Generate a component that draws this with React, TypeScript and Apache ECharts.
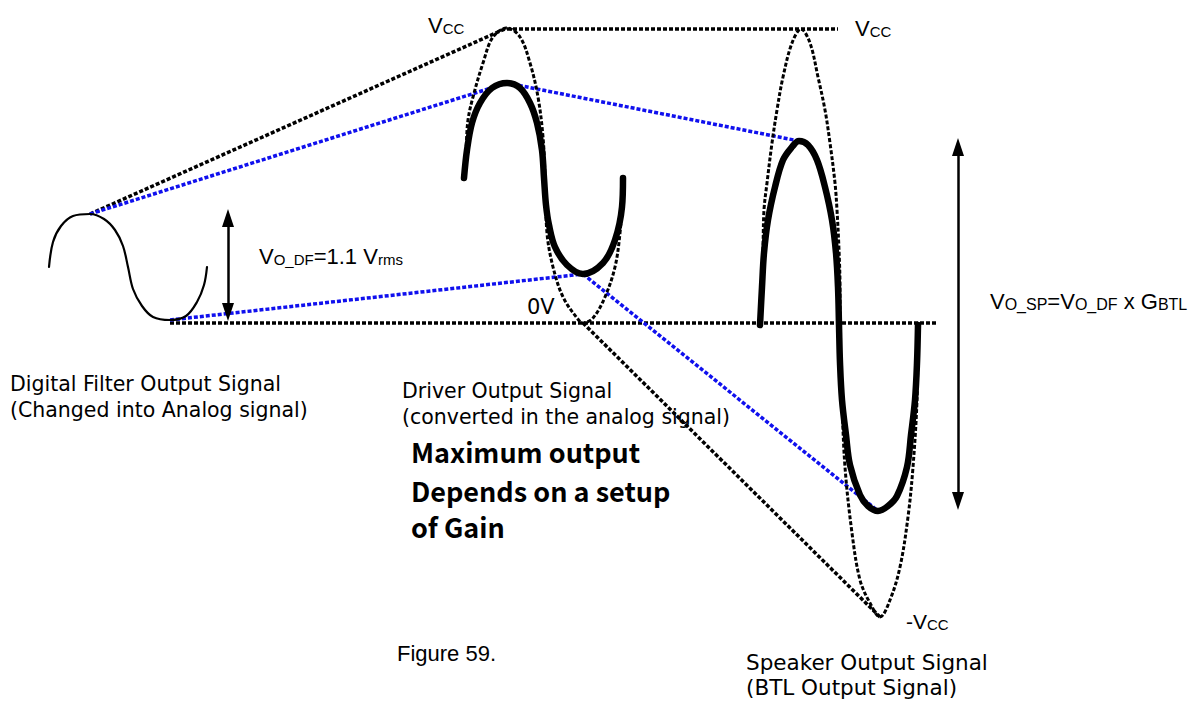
import React, { useEffect, useRef } from 'react';
import * as echarts from 'echarts';

// ---- data (pixel space, y downward) ----
const filterWave: number[][] = [
  [49, 267], [53, 242], [61, 226], [73, 216], [90, 214], [104, 219], [115, 230], [123, 246],
  [128, 267], [133, 289], [142, 306], [153, 317], [170, 320], [186, 316], [197, 302], [204, 285], [207, 267],
];
const driverWave: number[][] = [
  [464, 178], [467, 150], [472, 123], [480, 103], [492, 88], [507, 83], [520, 88], [530, 103],
  [537, 123], [542, 150], [544, 178], [546, 205], [549, 225], [555, 247], [567, 265], [583, 274],
  [603, 263], [615, 240], [622, 207], [623, 178],
];
const driverEnvelope: number[][] = [
  [464, 176], [466, 150], [468, 120], [473, 97], [483, 63], [493, 37], [507, 28], [520, 37],
  [530, 63], [538, 97], [543, 137], [545, 176], [547, 233], [553, 267], [563, 297], [577, 318],
  [583, 323], [593, 318], [605, 297], [615, 267], [620, 233], [622, 200], [623, 176],
];
const speakerWave: number[][] = [
  [760, 325], [762, 287], [764, 253], [768, 220], [775, 187], [783, 160], [792, 147], [799, 141],
  [808, 145], [817, 160], [825, 187], [832, 220], [836, 253], [838, 287], [839, 325], [840, 363],
  [842, 400], [846, 435], [850, 465], [860, 495], [868, 506], [878, 511], [888, 506], [897, 496],
  [907, 467], [911, 435], [915, 400], [917, 363], [918, 325],
];
const speakerEnvelope: number[][] = [
  [761, 323], [762, 287], [763, 250], [764, 210], [767, 183], [772, 143], [777, 110], [783, 77],
  [792, 43], [801, 29], [810, 43], [818, 77], [825, 110], [830, 143], [835, 183], [837, 210],
  [839, 250], [840, 287], [840, 323], [842, 400], [845, 467], [852, 533], [860, 580], [870, 603],
  [880, 617], [890, 600], [900, 567], [908, 517], [913, 467], [917, 400], [918, 323],
];
const blackGuides: number[][][] = [
  [[90, 214], [507, 28]],
  [[170, 323], [937, 323]],
  [[507, 29], [838, 29]],
  [[583, 323], [880, 617]],
];
const blueGuides: number[][][] = [
  [[90, 214], [507, 83]],
  [[170, 320], [583, 274]],
  [[507, 83], [799, 141]],
  [[583, 274], [878, 511]],
];
// [x, top tip, bottom tip]
const arrows: number[][] = [
  [228, 209, 321],
  [958, 138, 510],
];

const labelFilter = ['Digital Filter Output Signal', '(Changed into Analog signal)'];
const labelDriver = ['Driver Output Signal', '(converted in the analog signal)'];
const labelNote = ['Maximum output', 'Depends on a setup', 'of Gain'];
const labelSpeaker = ['Speaker Output Signal', '(BTL Output Signal)'];
const labelFigure = 'Figure 59.';
const labelZero = '0V';

const BLUE = '#1010ee';
const SANS = '"Liberation Sans", Arial, sans-serif';
const GOTHIC = '"DejaVu Sans", "Noto Sans", sans-serif';
const BOLD_GOTHIC = '"Noto Sans CJK JP", "Noto Sans", sans-serif';

function richV(bigSize: number, subSize: number) {
  return {
    v: { fontSize: bigSize, fontFamily: SANS, fill: '#000', verticalAlign: 'bottom' },
    s: { fontSize: subSize, fontFamily: SANS, fill: '#000', verticalAlign: 'bottom', lineHeight: 11 },
  };
}

export default function App() {
  const ref = useRef<HTMLDivElement>(null);
  useEffect(() => {
    const chart = echarts.init(ref.current!, null, { renderer: 'svg' });
    const curve = (data: number[][], width: number, dotted: boolean, color: string, z: number, smooth: number | boolean) => ({
      type: 'line',
      data,
      smooth,
      symbol: 'none',
      showSymbol: false,
      silent: true,
      z,
      lineStyle: { color, width, type: dotted ? [4, 2] : 'solid', cap: dotted ? 'butt' : 'round', join: 'round' },
      emphasis: { disabled: true },
    });
    const series: any[] = [
      ...blackGuides.map((d) => curve(d, 3.5, true, '#000', 2, false)),
      ...blueGuides.map((d) => curve(d, 3.5, true, BLUE, 2, false)),
      curve(driverEnvelope, 3, true, '#000', 2, 0.35),
      curve(speakerEnvelope, 3, true, '#000', 2, 0.35),
      curve(filterWave, 2.2, false, '#000', 3, 0.35),
      curve(driverWave, 6.5, false, '#000', 3, 0.35),
      curve(speakerWave, 6.5, false, '#000', 3, 0.35),
      {
        type: 'line',
        data: [],
        silent: true,
        markLine: {
          silent: true,
          symbol: ['triangle', 'triangle'],
          symbolSize: [12, 18],
          label: { show: false },
          emphasis: { disabled: true },
          lineStyle: { color: '#000', width: 2.5, type: 'solid' },
          data: arrows.map((a) => [{ coord: [a[0], a[1] + 9] }, { coord: [a[0], a[2] - 9] }]),
        },
      },
    ];

    const txt = (x: number, y: number, text: string, font: any) => ({
      type: 'text', x, y, silent: true,
      style: { text, fill: '#000', verticalAlign: 'middle', ...font },
    });

    const g = (size: number) => ({ fontSize: size, fontFamily: GOTHIC });
    const b = { fontSize: 27, fontFamily: BOLD_GOTHIC, fontWeight: 'bold' };

    chart.setOption({
      animation: false,
      backgroundColor: '#fff',
      grid: { left: 0, right: 0, top: 0, bottom: 0 },
      xAxis: { type: 'value', min: 0, max: 1189, show: false },
      yAxis: { type: 'value', min: 0, max: 702, inverse: true, show: false },
      series,
      graphic: {
        elements: [
          txt(428, 25, '{v|V}{s|CC}', { rich: richV(22, 15) }),
          txt(855, 28, '{v|V}{s|CC}', { rich: richV(22, 15) }),
          txt(906, 621, '{v|-V}{s|CC}', { rich: richV(21, 15) }),
          txt(259, 256, '{v|V}{s|O_DF}{v|=1.1 V}{s|rms}', { rich: richV(22, 15) }),
          txt(990, 301, '{v|V}{s|O_SP}{v|=V}{s|O_DF}{v| x G}{s|BTL}', { rich: richV(22, 16) }),
          txt(527, 307, labelZero, g(21)),
          txt(10, 384, labelFilter[0], g(20.5)),
          txt(10, 410, labelFilter[1], g(20.5)),
          txt(402, 391, labelDriver[0], g(20.5)),
          txt(402, 417, labelDriver[1], g(20.5)),
          txt(411, 451, labelNote[0], b),
          txt(411, 490, labelNote[1], b),
          txt(411, 526, labelNote[2], b),
          txt(397, 653, labelFigure, { fontSize: 22, fontFamily: SANS }),
          txt(746, 662, labelSpeaker[0], g(21.5)),
          txt(746, 687, labelSpeaker[1], g(21.5)),
        ],
      },
    });
    return () => chart.dispose();
  }, []);
  return (
    <div
      ref={ref}
      style={{ position: 'fixed', left: 0, top: 0, width: 1189, height: 702, background: '#fff' }}
    />
  );
}
